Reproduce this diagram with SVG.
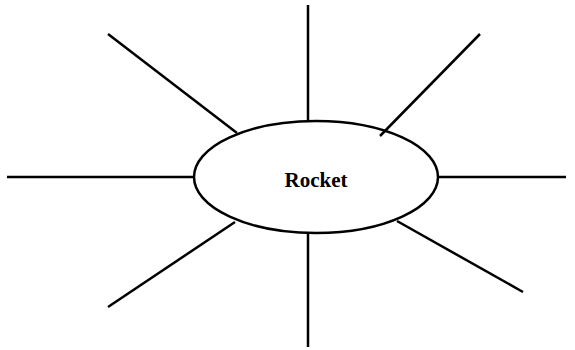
<svg xmlns="http://www.w3.org/2000/svg" width="575" height="350" viewBox="0 0 575 350">
<style>
.ln{stroke:#000;stroke-width:2.5;fill:none}
.nd{fill:#fff;stroke:#000;stroke-width:2.5}
.lb{font-family:"Liberation Serif",serif;font-weight:bold;font-size:21px;fill:#000}
</style>
<rect width="575" height="350" fill="#fff"/>
<g id="rocket">
<ellipse class="nd" cx="316" cy="177" rx="122" ry="56"/>
<text class="lb" x="316" y="187" text-anchor="middle">Rocket</text>
</g>
<g id="connectors">
<line class="ln" x1="308" y1="5" x2="308" y2="121"/>
<line class="ln" x1="308" y1="233" x2="308" y2="347"/>
<line class="ln" x1="7" y1="177" x2="194" y2="177"/>
<line class="ln" x1="438" y1="177" x2="566" y2="177"/>
<line class="ln" x1="108" y1="34" x2="237" y2="133"/>
<line class="ln" x1="480" y1="34" x2="380" y2="136"/>
<line class="ln" x1="108" y1="307" x2="235" y2="222"/>
<line class="ln" x1="397" y1="221" x2="523" y2="292"/>
</g>
</svg>
